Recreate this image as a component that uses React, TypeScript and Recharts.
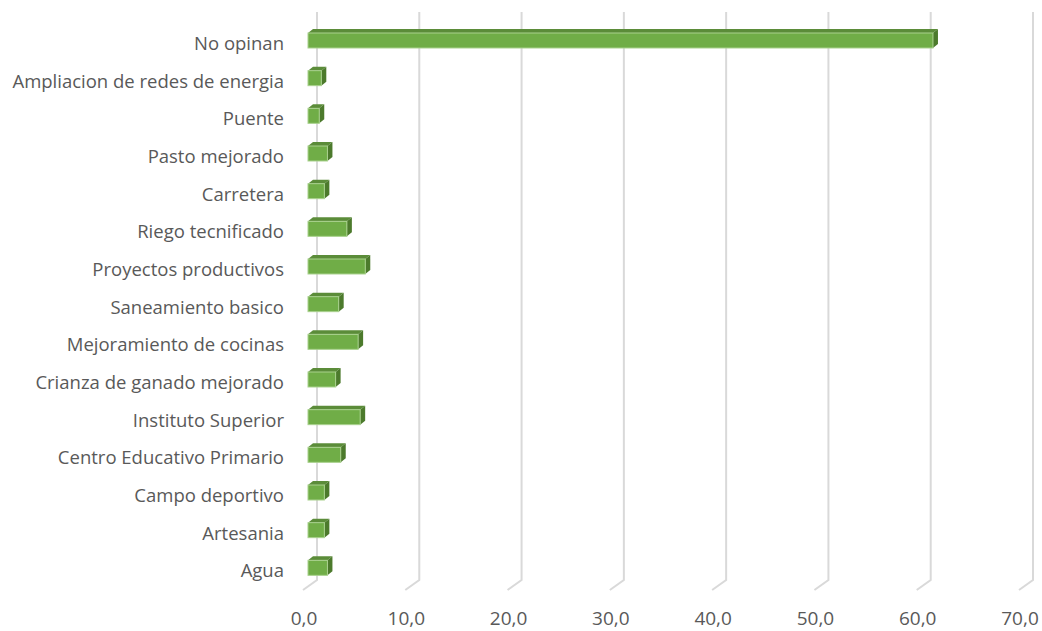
import { Bar, BarChart, CartesianGrid, XAxis, YAxis } from 'recharts';

const categories = [
  'No opinan',
  'Ampliacion de redes de energia',
  'Puente',
  'Pasto mejorado',
  'Carretera',
  'Riego tecnificado',
  'Proyectos productivos',
  'Saneamiento basico',
  'Mejoramiento de cocinas',
  'Crianza de ganado mejorado',
  'Instituto Superior',
  'Centro Educativo Primario',
  'Campo deportivo',
  'Artesania',
  'Agua',
];

const values = [61.1, 1.3, 1.1, 1.9, 1.6, 3.8, 5.6, 3.0, 4.9, 2.7, 5.1, 3.2, 1.6, 1.6, 1.9];

const xTicks = [0, 10, 20, 30, 40, 50, 60, 70];

const data = categories.map((name, i) => ({ name, value: values[i] }));

const FONT = '"Open Sans", sans-serif';
const LABEL = '#595959';

// 3D-ish bar: front face plus a top and right face offset up-right
function Bar3D(props: any) {
  const { x, y, width, height } = props;
  if (width == null || width <= 0) return null;
  const dx = 5;
  const dy = 4;
  const fy = y + 1;
  return (
    <g>
      <polygon
        points={`${x},${fy} ${x + dx},${fy - dy} ${x + width + dx},${fy - dy} ${x + width},${fy}`}
        fill="#5B8C39"
      />
      <polygon
        points={`${x + width},${fy} ${x + width + dx},${fy - dy} ${x + width + dx},${fy + height - dy} ${x + width},${fy + height}`}
        fill="#4C7A2C"
      />
      <rect x={x} y={fy} width={width} height={height} fill="#70AD47" stroke="#A9D18E" strokeWidth={1} />
    </g>
  );
}

function GridLine(props: any) {
  const { x1, y1, y2, index } = props;
  return (
    <path
      key={`g-${index}`}
      d={`M${x1 + 9},${y1 - 9} L${x1 + 9},${y2 - 6} L${x1 - 5},${y2 + 4}`}
      fill="none"
      stroke="#D9D9D9"
      strokeWidth={2}
    />
  );
}

function XTick(props: any) {
  const { x, payload } = props;
  return (
    <text x={x - 4} y={625} textAnchor="middle" fill={LABEL} fontSize={19} fontFamily={FONT}>
      {Number(payload.value).toFixed(1).replace('.', ',')}
    </text>
  );
}

function YTick(props: any) {
  const { y, payload } = props;
  return (
    <text x={284} y={y + 10} textAnchor="end" fill={LABEL} fontSize={18.5} fontFamily={FONT}>
      {payload.value}
    </text>
  );
}

export default function App() {
  return (
    <div style={{ position: 'absolute', left: 0, top: 0, width: 1042, height: 631, background: '#fff' }}>
      <BarChart
        width={1042}
        height={631}
        data={data}
        layout="vertical"
        margin={{ top: 21, right: 18, left: 10, bottom: 0 }}
        barSize={15}
      >
        <CartesianGrid horizontal={false} vertical={GridLine} />
        <XAxis
          type="number"
          domain={[0, 70]}
          ticks={xTicks}
          axisLine={false}
          tickLine={false}
          height={45}
          tick={XTick}
          interval={0}
        />
        <YAxis
          type="category"
          dataKey="name"
          width={298}
          axisLine={false}
          tickLine={false}
          tick={YTick}
          interval={0}
        />
        <Bar dataKey="value" shape={Bar3D} isAnimationActive={false} />
      </BarChart>
    </div>
  );
}
